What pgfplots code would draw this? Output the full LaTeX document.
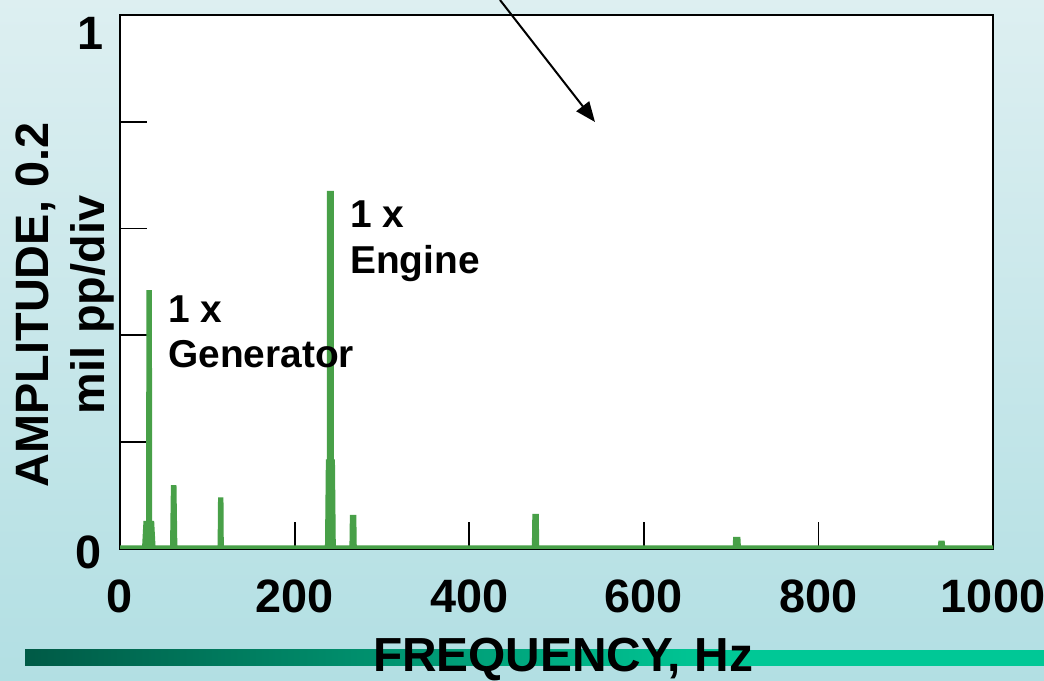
\documentclass[border=0pt]{standalone}
\usepackage{pgfplots}
\pgfplotsset{compat=1.18}
\usepackage{fontspec}
\setmainfont{Liberation Sans}
\usetikzlibrary{arrows.meta}
\definecolor{bgtop}{RGB}{221,239,241}
\definecolor{bgbot}{RGB}{178,223,227}
\definecolor{spec}{RGB}{72,160,72}
\definecolor{bardark}{RGB}{0,90,70}
\definecolor{barlight}{RGB}{0,200,150}
\begin{document}
\begin{tikzpicture}[x=1bp,y=1bp]
\useasboundingbox (0,0) rectangle (1044,681);
\shade[top color=bgtop, bottom color=bgbot] (0,0) rectangle (1044,681);
\shade[left color=bardark, right color=barlight] (25,15) rectangle (720,31);
\fill[barlight] (719.5,15) rectangle (1044,31);
\begin{axis}[
  at={(120bp,132bp)}, anchor=south west, scale only axis,
  width=873bp, height=534bp,
  xmin=0, xmax=1000, ymin=0, ymax=1,
  axis background/.style={fill=white},
  axis line style={line width=1.5bp, black},
  xtick={0,200,400,600,800,1000}, xticklabels={0,200,400,600,800,1000},
  ytick={0.2,0.4,0.6,0.8}, yticklabels={},
  tick align=inside, xtick pos=bottom, ytick pos=left,
  major tick length=27bp, tick style={line width=1.8bp, black},
  xticklabel style={font=\fontsize{47}{47}\selectfont\bfseries, inner sep=0pt, yshift=-31bp},
]
\addplot[spec, fill=spec, line width=3bp, line join=miter] coordinates {
 (0,0.004) (27,0.004) (28.5,0.05) (31.5,0.05) (32,0.482) (34.8,0.482) (35.2,0.05) (37.5,0.05) (39,0.004)
 (59,0.004) (60,0.117) (63,0.117) (64,0.004)
 (113.5,0.004) (114,0.094) (116.8,0.094) (117.2,0.004)
 (236.5,0.004) (237.5,0.165) (238.6,0.165) (238.8,0.668) (243.2,0.668) (243.4,0.165) (244.5,0.165) (245.5,0.004)
 (264.5,0.004) (265,0.061) (269,0.061) (269.5,0.004)
 (473.5,0.004) (474,0.063) (478,0.063) (478.5,0.004)
 (703.5,0.004) (704,0.02) (709,0.02) (709.5,0.004)
 (938.5,0.004) (939,0.013) (943,0.013) (943.5,0.004)
 (1000,0.004)
} \closedcycle;
\end{axis}
\draw[line width=2bp, -{Triangle[length=20bp,width=16bp]}] (500,681) -- (595,559);
\node[anchor=east, inner sep=0pt, font=\fontsize{47}{47}\selectfont\bfseries] at (104,648) {1};
\node[anchor=east, inner sep=0pt, font=\fontsize{47}{47}\selectfont\bfseries] at (102,129) {0};
\node[rotate=90, align=center, inner sep=0pt, font=\fontsize{47}{57}\selectfont\bfseries] at (65,376) {AMPLITUDE, 0.2\\mil pp/div};
\node[anchor=base, inner sep=0pt, font=\fontsize{48}{48}\selectfont\bfseries] at (563,9) {FREQUENCY, Hz};
\node[anchor=base west, inner sep=0pt, font=\fontsize{39}{39}\selectfont\bfseries] at (168,358) {1 x};
\node[anchor=base west, inner sep=0pt, font=\fontsize{39}{39}\selectfont\bfseries] at (168,313) {Generator};
\node[anchor=base west, inner sep=0pt, font=\fontsize{39}{39}\selectfont\bfseries] at (350,453) {1 x};
\node[anchor=base west, inner sep=0pt, font=\fontsize{39}{39}\selectfont\bfseries] at (350,407) {Engine};
\end{tikzpicture}
\end{document}
